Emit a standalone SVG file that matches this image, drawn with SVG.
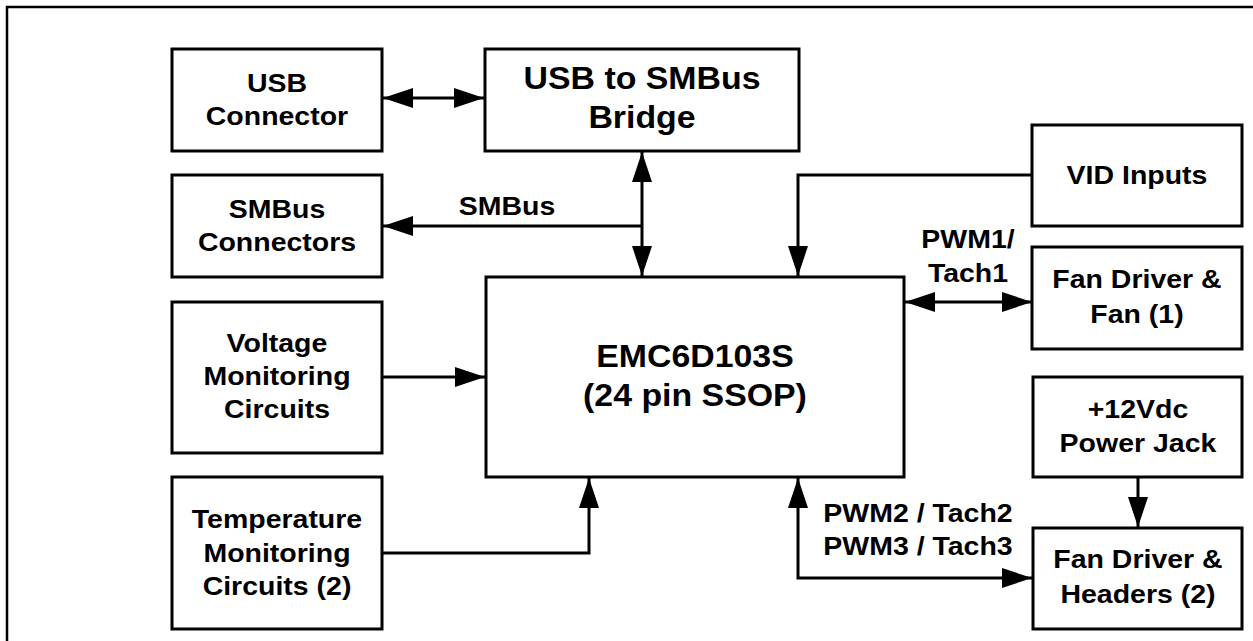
<svg xmlns="http://www.w3.org/2000/svg" width="1253" height="641" viewBox="0 0 1253 641">
<defs>
<style>
.box{fill:#fff;stroke:#000;stroke-width:3}
.t{font-family:"Liberation Sans",Arial,sans-serif;font-weight:bold;font-size:26.5px;fill:#000;text-anchor:middle;transform-box:fill-box;transform-origin:center;transform:scaleX(1.075)}
.tl{font-size:31.5px}
.w{fill:none;stroke:#000;stroke-width:3}
</style>
<marker id="ah" viewBox="0 0 30 20" refX="30" refY="10" markerWidth="30" markerHeight="20" markerUnits="userSpaceOnUse" orient="auto-start-reverse">
<path d="M0,0 L30,10 L0,20 Z" fill="#000"/>
</marker>
</defs>
<rect width="1253" height="641" fill="#fff"/>
<path d="M7,641 V7 H1253" fill="none" stroke="#000" stroke-width="2.5"/>

<g id="connectors">
<path class="w" d="M383,98 H484" marker-start="url(#ah)" marker-end="url(#ah)"/>
<path class="w" d="M642,152 V276" marker-start="url(#ah)" marker-end="url(#ah)"/>
<path class="w" d="M642,226 H383" marker-end="url(#ah)"/>
<path class="w" d="M1032,175 H798 V276" marker-end="url(#ah)"/>
<path class="w" d="M905,302 H1032" marker-start="url(#ah)" marker-end="url(#ah)"/>
<path class="w" d="M383,377 H485" marker-end="url(#ah)"/>
<path class="w" d="M383,553 H589 V478" marker-end="url(#ah)"/>
<path class="w" d="M798,478 V578 H1032" marker-start="url(#ah)" marker-end="url(#ah)"/>
<path class="w" d="M1138,478 V527" marker-end="url(#ah)"/>
<text class="t" x="507" y="215">SMBus</text>
<text class="t" x="968" y="248">PWM1/</text>
<text class="t" x="968" y="282">Tach1</text>
<text class="t" x="918" y="522">PWM2 / Tach2</text>
<text class="t" x="918" y="555">PWM3 / Tach3</text>
</g>

<g id="usb-connector">
<rect class="box" x="172" y="49" width="210" height="102"/>
<text class="t" x="277" y="92">USB</text>
<text class="t" x="277" y="125">Connector</text>
</g>
<g id="usb-bridge">
<rect class="box" x="485" y="49" width="314" height="102"/>
<text class="t tl" x="642" y="89">USB to SMBus</text>
<text class="t tl" x="642" y="128">Bridge</text>
</g>
<g id="smbus-connectors">
<rect class="box" x="172" y="175" width="210" height="102"/>
<text class="t" x="277" y="218">SMBus</text>
<text class="t" x="277" y="251">Connectors</text>
</g>
<g id="vid-inputs">
<rect class="box" x="1032" y="125" width="210" height="101"/>
<text class="t" x="1137" y="184">VID Inputs</text>
</g>
<g id="fan1">
<rect class="box" x="1032" y="247" width="210" height="102"/>
<text class="t" x="1137" y="288">Fan Driver &amp;</text>
<text class="t" x="1137" y="323">Fan (1)</text>
</g>
<g id="emc">
<rect class="box" x="486" y="277" width="418" height="200"/>
<text class="t tl" x="695" y="367">EMC6D103S</text>
<text class="t tl" x="695" y="406">(24 pin SSOP)</text>
</g>
<g id="voltage">
<rect class="box" x="172" y="302" width="210" height="151"/>
<text class="t" x="277" y="352">Voltage</text>
<text class="t" x="277" y="385">Monitoring</text>
<text class="t" x="277" y="418">Circuits</text>
</g>
<g id="temperature">
<rect class="box" x="172" y="477" width="210" height="152"/>
<text class="t" x="277" y="528">Temperature</text>
<text class="t" x="277" y="562">Monitoring</text>
<text class="t" x="277" y="595">Circuits (2)</text>
</g>
<g id="power-jack">
<rect class="box" x="1033" y="377" width="209" height="100"/>
<text class="t" x="1138" y="418">+12Vdc</text>
<text class="t" x="1138" y="452">Power Jack</text>
</g>
<g id="fan2">
<rect class="box" x="1033" y="528" width="209" height="101"/>
<text class="t" x="1138" y="568">Fan Driver &amp;</text>
<text class="t" x="1138" y="603">Headers (2)</text>
</g>
</svg>
